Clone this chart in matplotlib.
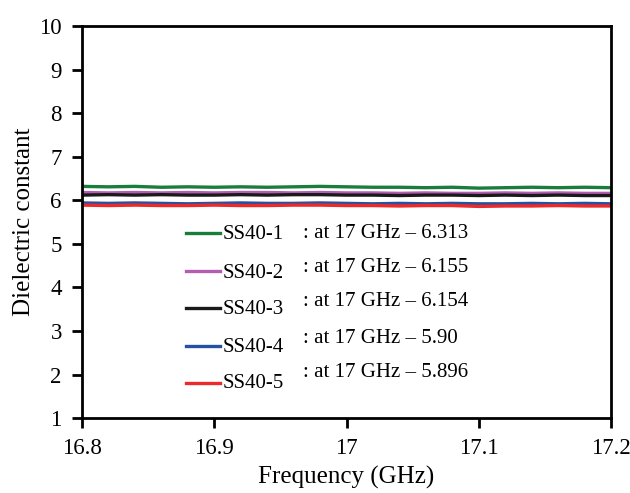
import numpy as np
import matplotlib
matplotlib.use("Agg")
import matplotlib.pyplot as plt

plt.rcParams['font.family'] = ['Liberation Serif', 'DejaVu Serif']

# frequency grid (GHz) and readings per sample
freq = np.linspace(16.8, 17.2, 21)
ss1 = [6.32, 6.31, 6.32, 6.30, 6.31, 6.30, 6.31, 6.30, 6.31, 6.32, 6.31,
       6.30, 6.30, 6.29, 6.30, 6.28, 6.29, 6.30, 6.29, 6.30, 6.29]
ss2 = [6.18, 6.17, 6.18, 6.17, 6.18, 6.17, 6.18, 6.18, 6.17, 6.18, 6.17,
       6.17, 6.16, 6.17, 6.16, 6.16, 6.17, 6.16, 6.17, 6.16, 6.16]
ss3 = [6.12, 6.13, 6.12, 6.13, 6.12, 6.12, 6.13, 6.12, 6.13, 6.13, 6.12,
       6.12, 6.11, 6.12, 6.12, 6.11, 6.12, 6.11, 6.12, 6.11, 6.11]
ss4 = [5.94, 5.93, 5.94, 5.93, 5.92, 5.93, 5.94, 5.93, 5.93, 5.94, 5.93,
       5.92, 5.93, 5.92, 5.93, 5.92, 5.92, 5.93, 5.92, 5.93, 5.92]
ss5 = [5.89, 5.88, 5.89, 5.88, 5.88, 5.89, 5.88, 5.88, 5.89, 5.89, 5.88,
       5.88, 5.87, 5.88, 5.88, 5.86, 5.87, 5.87, 5.88, 5.87, 5.87]

names = ["SS40-1", "SS40-2", "SS40-3", "SS40-4", "SS40-5"]
notes = [": at 17 GHz \u2013 6.313", ": at 17 GHz \u2013 6.155", ": at 17 GHz \u2013 6.154",
         ": at 17 GHz \u2013 5.90", ": at 17 GHz \u2013 5.896"]
colors = ["#1b7d3c", "#b35db3", "#1a1a1a", "#2451a3", "#ec2a2a"]

fig = plt.figure(figsize=(6.3, 4.93), dpi=100)
ax = fig.add_axes([0.130, 0.152, 0.840, 0.795])

for y, c in zip([ss1, ss2, ss3, ss4, ss5], colors):
    ax.plot(freq, y, color=c, lw=2.4)

ax.set_xlim(16.8, 17.2)
ax.set_ylim(1, 10)
ax.set_xticks([16.8, 16.9, 17.0, 17.1, 17.2])
ax.set_xticklabels(["16.8", "16.9", "17", "17.1", "17.2"])
ax.set_yticks(range(1, 11))
for s in ax.spines.values():
    s.set_linewidth(2)
ax.tick_params(axis='both', direction='out', length=7.5, width=2, labelsize=16.5, pad=7)
ax.set_xlabel("Frequency (GHz)", fontsize=18, labelpad=5)
ax.set_ylabel("Dielectric constant", fontsize=18, labelpad=3)

# hand-made legend (axes fractions)
line_y = [0.472, 0.375, 0.281, 0.184, 0.089]
lab_y = [0.469, 0.370, 0.278, 0.179, 0.087]
note_y = [0.472, 0.383, 0.298, 0.202, 0.115]
for i in range(5):
    ax.plot([0.197, 0.261], [line_y[i], line_y[i]], color=colors[i], lw=2.4,
            transform=ax.transAxes)
    ax.text(0.266, lab_y[i], names[i], transform=ax.transAxes, fontsize=15,
            va='center', ha='left')
    ax.text(0.418, note_y[i], notes[i], transform=ax.transAxes, fontsize=15,
            va='center', ha='left')

fig.savefig("out.png", dpi=100)
